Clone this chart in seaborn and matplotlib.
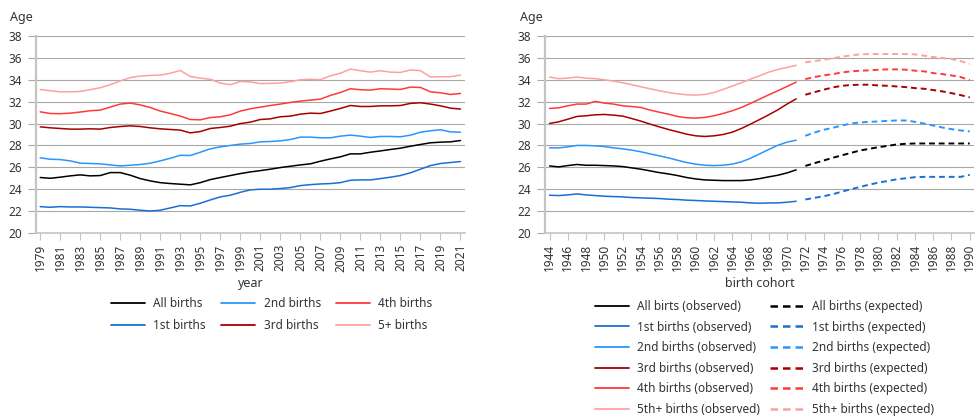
import numpy as np
import pandas as pd
import matplotlib
matplotlib.use("Agg")
import matplotlib.pyplot as plt
from matplotlib.lines import Line2D
import seaborn as sns

# ---------------- data ----------------
years = list(range(1979, 2022))
series_left = ["All births", "1st births", "2nd births", "3rd births", "4th births", "5+ births"]

all_births = [25.07, 25.00, 25.10, 25.22, 25.31, 25.22, 25.25, 25.52, 25.52, 25.28,
              24.97, 24.76, 24.60, 24.52, 24.46, 24.40, 24.60, 24.88, 25.07, 25.25,
              25.43, 25.58, 25.70, 25.83, 25.98, 26.10, 26.22, 26.32, 26.56, 26.77,
              26.96, 27.23, 27.23, 27.38, 27.50, 27.63, 27.75, 27.93, 28.09, 28.24,
              28.30, 28.33, 28.45]
first_births = [22.41, 22.35, 22.41, 22.38, 22.38, 22.35, 22.32, 22.29, 22.20, 22.17,
                22.08, 22.01, 22.08, 22.29, 22.50, 22.47, 22.72, 23.02, 23.30, 23.45,
                23.72, 23.94, 24.00, 24.00, 24.06, 24.15, 24.33, 24.42, 24.48, 24.52,
                24.60, 24.82, 24.85, 24.85, 24.97, 25.10, 25.25, 25.50, 25.83, 26.16,
                26.35, 26.44, 26.53]
second_births = [26.87, 26.74, 26.71, 26.59, 26.38, 26.35, 26.32, 26.22, 26.13, 26.19,
                 26.26, 26.38, 26.59, 26.83, 27.10, 27.08, 27.38, 27.69, 27.87, 28.00,
                 28.12, 28.18, 28.33, 28.36, 28.42, 28.54, 28.76, 28.76, 28.70, 28.70,
                 28.85, 28.94, 28.85, 28.73, 28.82, 28.82, 28.79, 28.94, 29.21, 29.34,
                 29.43, 29.24, 29.21]
third_births = [29.70, 29.61, 29.55, 29.49, 29.49, 29.52, 29.49, 29.64, 29.73, 29.79,
                29.73, 29.61, 29.52, 29.46, 29.40, 29.15, 29.27, 29.55, 29.64, 29.76,
                30.00, 30.13, 30.37, 30.43, 30.62, 30.68, 30.86, 30.95, 30.92, 31.14,
                31.38, 31.65, 31.56, 31.56, 31.62, 31.62, 31.65, 31.84, 31.90, 31.78,
                31.62, 31.41, 31.32]
fourth_births = [31.07, 30.92, 30.90, 30.95, 31.05, 31.17, 31.23, 31.50, 31.78, 31.87,
                 31.70, 31.47, 31.14, 30.92, 30.68, 30.37, 30.34, 30.55, 30.62, 30.80,
                 31.14, 31.35, 31.50, 31.65, 31.78, 31.93, 32.05, 32.14, 32.23, 32.57,
                 32.84, 33.18, 33.09, 33.06, 33.18, 33.15, 33.12, 33.33, 33.30, 32.90,
                 32.81, 32.66, 32.75]
fifth_births = [33.12, 33.00, 32.90, 32.90, 32.93, 33.10, 33.27, 33.55, 33.90, 34.20,
                34.34, 34.40, 34.43, 34.60, 34.85, 34.30, 34.15, 34.05, 33.70, 33.55,
                33.85, 33.80, 33.65, 33.67, 33.70, 33.82, 34.00, 34.05, 34.00, 34.37,
                34.60, 34.98, 34.83, 34.70, 34.83, 34.70, 34.67, 34.90, 34.83, 34.25,
                34.28, 34.28, 34.43]

cohorts_obs = list(range(1944, 1972))
cohorts_exp = list(range(1972, 1991))
series_right = ["All", "1st", "2nd", "3rd", "4th", "5th+"]

all_obs = [26.13, 26.04, 26.16, 26.26, 26.19, 26.19, 26.16, 26.13, 26.07, 25.95,
           25.83, 25.68, 25.52, 25.40, 25.25, 25.07, 24.94, 24.85, 24.82, 24.79,
           24.79, 24.79, 24.85, 24.97, 25.13, 25.28, 25.49, 25.77]
all_exp = [26.13, 26.38, 26.62, 26.87, 27.10, 27.32, 27.54, 27.69, 27.84, 27.96,
           28.09, 28.15, 28.18, 28.18, 28.18, 28.18, 28.18, 28.18, 28.18]
first_obs = [23.45, 23.42, 23.48, 23.57, 23.48, 23.42, 23.36, 23.33, 23.30, 23.24,
             23.21, 23.18, 23.15, 23.09, 23.06, 23.00, 22.97, 22.93, 22.90, 22.87,
             22.84, 22.81, 22.75, 22.72, 22.75, 22.75, 22.81, 22.90]
first_exp = [23.06, 23.21, 23.36, 23.54, 23.78, 24.00, 24.21, 24.42, 24.60, 24.75,
             24.91, 25.00, 25.10, 25.13, 25.13, 25.13, 25.13, 25.13, 25.31]
second_obs = [27.78, 27.78, 27.87, 28.00, 28.00, 27.96, 27.90, 27.78, 27.69, 27.57,
              27.42, 27.23, 27.05, 26.87, 26.65, 26.44, 26.29, 26.19, 26.16, 26.19,
              26.29, 26.50, 26.83, 27.23, 27.63, 28.02, 28.30, 28.48]
second_exp = [28.88, 29.18, 29.43, 29.61, 29.82, 30.00, 30.10, 30.16, 30.19, 30.25,
              30.28, 30.28, 30.16, 30.00, 29.82, 29.64, 29.49, 29.37, 29.28]
third_obs = [30.01, 30.16, 30.40, 30.65, 30.71, 30.80, 30.83, 30.77, 30.68, 30.46,
             30.22, 29.95, 29.70, 29.46, 29.25, 29.03, 28.88, 28.82, 28.88, 29.00,
             29.21, 29.55, 29.95, 30.37, 30.80, 31.26, 31.78, 32.26]
third_exp = [32.63, 32.87, 33.09, 33.30, 33.45, 33.52, 33.55, 33.55, 33.48, 33.45,
             33.39, 33.33, 33.24, 33.18, 33.06, 32.94, 32.78, 32.60, 32.39]
fourth_obs = [31.38, 31.44, 31.62, 31.78, 31.78, 32.02, 31.87, 31.78, 31.62, 31.56,
              31.47, 31.23, 31.04, 30.86, 30.65, 30.53, 30.50, 30.56, 30.71, 30.92,
              31.17, 31.47, 31.84, 32.23, 32.63, 33.00, 33.39, 33.79]
fourth_exp = [34.06, 34.25, 34.40, 34.52, 34.67, 34.77, 34.83, 34.86, 34.92, 34.95,
              34.95, 34.92, 34.83, 34.77, 34.61, 34.52, 34.40, 34.25, 33.97]
fifth_obs = [34.25, 34.10, 34.15, 34.25, 34.15, 34.10, 34.00, 33.88, 33.73, 33.55,
             33.36, 33.18, 33.00, 32.84, 32.72, 32.63, 32.60, 32.66, 32.84, 33.12,
             33.42, 33.73, 34.06, 34.37, 34.70, 34.95, 35.13, 35.32]
fifth_exp = [35.59, 35.71, 35.83, 35.96, 36.11, 36.23, 36.32, 36.35, 36.35, 36.35,
             36.35, 36.35, 36.32, 36.20, 36.08, 35.99, 35.90, 35.71, 35.44]

obs_labels = ["All birts (observed)", "1st births (observed)", "2nd births (observed)",
              "3rd births (observed)", "4th births (observed)", "5th+ births (observed)"]
exp_labels = ["All births (expected)", "1st births (expected)", "2nd births (expected)",
              "3rd births (expected)", "4th births (expected)", "5th+ births (expected)"]

colors = ["#000000", "#1a6fd4", "#2b95ff", "#a80000", "#ff3a3a", "#ffa0a0"]

# ---------------- frames ----------------
left_vals = [all_births, first_births, second_births, third_births, fourth_births, fifth_births]
df_left = pd.concat([pd.DataFrame({"year": years, "age": v, "series": s})
                     for s, v in zip(series_left, left_vals)], ignore_index=True)

obs_vals = [all_obs, first_obs, second_obs, third_obs, fourth_obs, fifth_obs]
exp_vals = [all_exp, first_exp, second_exp, third_exp, fourth_exp, fifth_exp]
parts = []
for s, o, e in zip(series_right, obs_vals, exp_vals):
    parts.append(pd.DataFrame({"cohort": cohorts_obs, "age": o, "series": s, "kind": "observed"}))
    parts.append(pd.DataFrame({"cohort": cohorts_exp, "age": e, "series": s, "kind": "expected"}))
df_right = pd.concat(parts, ignore_index=True)

# ---------------- style ----------------
sns.set_theme(style="white")
plt.rcParams["font.family"] = ["Noto Sans", "DejaVu Sans"]
txt = "#333333"
grid_c = "#a8a8a8"
spine_c = "#c4c4c4"
fs = 8.5

fig = plt.figure(figsize=(9.76, 4.17), dpi=100)
ax1 = fig.add_axes([35.7 / 976, 1 - 233 / 417, 429.3 / 976, 197 / 417])
ax2 = fig.add_axes([545 / 976, 1 - 233 / 417, 429.3 / 976, 197 / 417])

sns.lineplot(data=df_left, x="year", y="age", hue="series", hue_order=series_left,
             palette=colors, linewidth=1.1, legend=False, ax=ax1)

sns.lineplot(data=df_right, x="cohort", y="age", hue="series", hue_order=series_right,
             style="kind", style_order=["observed", "expected"],
             dashes={"observed": "", "expected": (3, 2)}, units="kind", estimator=None,
             palette=colors, linewidth=1.1, legend=False, ax=ax2)
for ln in ax2.get_lines():
    if ln.get_linestyle() not in ("-", "solid"):
        ln.set_linewidth(1.4)

def style_axis(ax, xlo, xhi, ticks, xlabel):
    ax.set_ylim(20, 38)
    ax.set_xlim(xlo, xhi)
    ax.set_yticks(range(20, 39, 2))
    ax.set_xticks(ticks)
    ax.set_xticklabels([str(t) for t in ticks], rotation=90)
    ax.yaxis.grid(True, color=grid_c, linewidth=0.8)
    ax.xaxis.grid(False)
    ax.set_axisbelow(True)
    for side in ("top", "right"):
        ax.spines[side].set_visible(False)
    ax.spines["left"].set_color(spine_c)
    ax.spines["left"].set_linewidth(1.6)
    ax.spines["bottom"].set_color(spine_c)
    ax.spines["bottom"].set_linewidth(1.2)
    ax.tick_params(axis="y", which="both", length=6, width=0.8, color=grid_c,
                   pad=4, labelsize=fs, labelcolor=txt, left=True, direction="out")
    ax.tick_params(axis="x", which="both", length=5, width=0.8, color=spine_c,
                   pad=3, labelsize=fs, labelcolor=txt, bottom=True, direction="out")
    ax.set_ylabel("")
    ax.set_xlabel(xlabel, fontsize=fs + 0.5, color=txt, labelpad=4)

style_axis(ax1, 1978.55, 2021.45, list(range(1979, 2022, 2)), "year")
style_axis(ax2, 1943.5, 1990.5, list(range(1944, 1991, 2)), "birth cohort")

fig.text(10 / 976, 1 - 17 / 417, "Age", fontsize=fs + 0.5, color=txt, va="center", ha="left")
fig.text(520 / 976, 1 - 17 / 417, "Age", fontsize=fs + 0.5, color=txt, va="center", ha="left")

# legends
lfs = 8.5
h_left = [Line2D([0], [0], color=c, lw=1.3) for c in colors]
leg1 = ax1.legend(h_left, series_left, ncol=3, loc="upper left",
                  bbox_to_anchor=(111 / 976, 1 - 297 / 417), bbox_transform=fig.transFigure,
                  frameon=False, fontsize=lfs, handlelength=2.9, handletextpad=0.68,
                  columnspacing=1.3, labelspacing=0.74, borderpad=0, borderaxespad=0,
                  labelcolor=txt)

h_obs = [Line2D([0], [0], color=c, lw=1.3) for c in colors]
h_exp = [Line2D([0], [0], color=c, lw=1.8, linestyle=(0, (3, 2))) for c in colors]
leg2 = ax2.legend(h_obs + h_exp, obs_labels + exp_labels, ncol=2, loc="upper left",
                  bbox_to_anchor=(595 / 976, 1 - 300 / 417), bbox_transform=fig.transFigure,
                  frameon=False, fontsize=lfs, handlelength=2.9, handletextpad=0.68,
                  columnspacing=0.85, labelspacing=0.64, borderpad=0, borderaxespad=0,
                  labelcolor=txt)

fig.savefig("out.png", dpi=100)
